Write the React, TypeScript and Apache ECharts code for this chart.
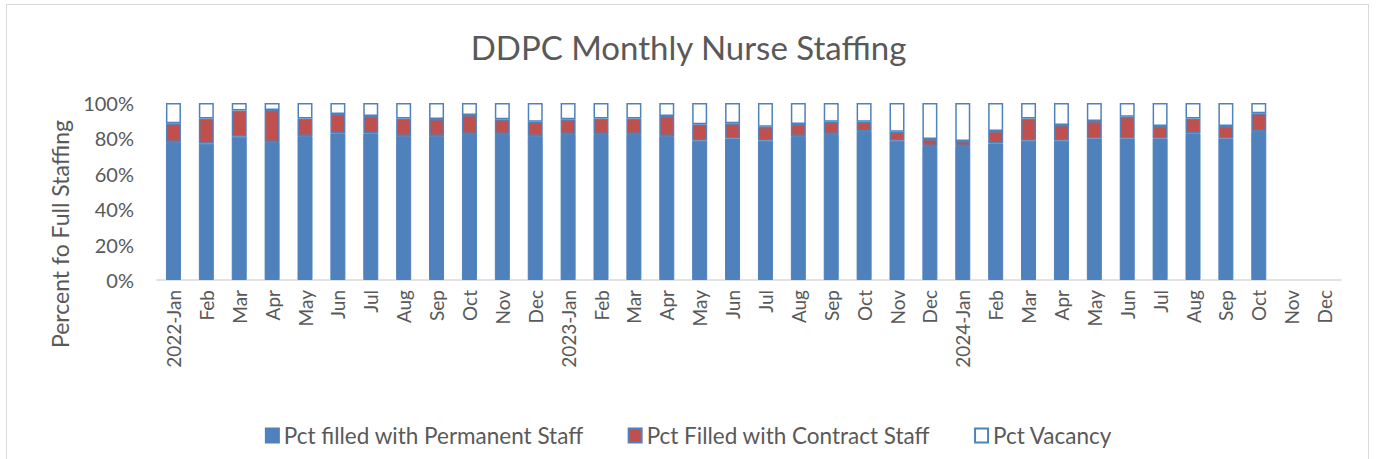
import React, { useEffect, useRef } from "react";
import * as echarts from "echarts";

const categories = [
  "2022-Jan", "Feb", "Mar", "Apr", "May", "Jun", "Jul", "Aug", "Sep", "Oct", "Nov", "Dec",
  "2023-Jan", "Feb", "Mar", "Apr", "May", "Jun", "Jul", "Aug", "Sep", "Oct", "Nov", "Dec",
  "2024-Jan", "Feb", "Mar", "Apr", "May", "Jun", "Jul", "Aug", "Sep", "Oct", "Nov", "Dec",
];

const permanent = [
  78.0, 77.0, 81.0, 78.0, 81.4, 82.9, 82.9, 81.4, 81.4, 82.5, 82.5, 81.4,
  82.5, 82.5, 82.5, 81.4, 78.7, 80.0, 78.7, 81.4, 82.5, 84.2, 78.7, 75.7,
  75.7, 77.2, 78.7, 78.7, 80.0, 80.0, 80.0, 82.9, 80.0, 84.2, null, null,
];

const contract = [
  10.5, 14.3, 14.7, 18.0, 9.9, 10.9, 9.8, 9.9, 9.6, 10.7, 8.3, 8.0,
  8.3, 8.8, 8.8, 11.3, 9.3, 8.5, 7.9, 6.7, 6.9, 5.2, 5.1, 4.0,
  2.8, 7.0, 12.6, 8.9, 9.8, 12.3, 7.0, 8.4, 7.0, 10.0, null, null,
];

const vacancy = [
  11.5, 8.7, 4.3, 4.0, 8.7, 6.2, 7.3, 8.7, 9.0, 6.8, 9.2, 10.6,
  9.2, 8.7, 8.7, 7.3, 12.0, 11.5, 13.4, 11.9, 10.6, 10.6, 16.2, 20.3,
  21.5, 15.8, 8.7, 12.4, 10.2, 7.7, 13.0, 8.7, 13.0, 5.8, null, null,
];

const yTicks = [0, 20, 40, 60, 80, 100];

const FONT = "Lato, 'Noto Sans', sans-serif";
const BLUE = "#4F81BD";
const RED = "#C0504D";
const TEXT = "#595959";

export default function App() {
  const ref = useRef<HTMLDivElement>(null);

  useEffect(() => {
    if (!ref.current) return;
    const chart = echarts.init(ref.current, undefined, { renderer: "svg" });
    chart.setOption({
      animation: false,
      textStyle: { fontFamily: FONT },
      title: {
        text: "DDPC Monthly Nurse Staffing",
        left: "center",
        top: 25,
        textStyle: { fontFamily: FONT, fontSize: 33, fontWeight: "normal", color: TEXT },
      },
      grid: { left: 157, right: 36, top: 103, bottom: 179, containLabel: false },
      legend: {
        bottom: 7,
        left: "center",
        itemWidth: 13,
        itemHeight: 14,
        itemGap: 44,
        icon: "rect",
        textStyle: { fontFamily: FONT, fontSize: 22.5, color: TEXT },
        data: [
          "Pct filled with Permanent Staff",
          "Pct Filled with Contract Staff",
          "Pct Vacancy",
        ],
      },
      graphic: [
        {
          type: "text",
          x: 60,
          y: 234,
          rotation: Math.PI / 2,
          style: {
            text: "Percent fo Full Staffing",
            fill: TEXT,
            font: `23px ${FONT}`,
            align: "center",
            verticalAlign: "middle",
          },
        },
      ],
      xAxis: {
        type: "category",
        data: categories,
        axisLine: { lineStyle: { color: "#D9D9D9", width: 1.5 } },
        axisTick: { show: false },
        axisLabel: {
          rotate: 90,
          interval: 0,
          margin: 10,
          fontSize: 19,
          color: TEXT,
          fontFamily: FONT,
        },
      },
      yAxis: {
        type: "value",
        min: 0,
        max: 100,
        interval: 20,
        axisLine: { show: false },
        axisTick: { show: false },
        splitLine: { show: false },
        axisLabel: {
          formatter: (v: number) => (yTicks.includes(v) ? `${v}%` : ""),
          fontSize: 20,
          color: TEXT,
          margin: 23,
          fontFamily: FONT,
        },
      },
      series: [
        {
          name: "Pct filled with Permanent Staff",
          type: "bar",
          stack: "s",
          barWidth: 15,
          data: permanent,
          itemStyle: { color: BLUE, borderColor: BLUE, borderWidth: 1 },
        },
        {
          name: "Pct Filled with Contract Staff",
          type: "bar",
          stack: "s",
          barWidth: 15,
          data: contract,
          itemStyle: { color: RED, borderColor: BLUE, borderWidth: 1.5 },
        },
        {
          name: "Pct Vacancy",
          type: "bar",
          stack: "s",
          barWidth: 15,
          data: vacancy,
          itemStyle: { color: "#FFFFFF", borderColor: BLUE, borderWidth: 1.5 },
        },
      ],
    });
    return () => chart.dispose();
  }, []);

  return (
    <div style={{ position: "fixed", left: 0, top: 0, width: 1377, height: 459, background: "#fff" }}>
      <div
        style={{
          position: "absolute",
          left: 6,
          top: 4,
          width: 1363,
          height: 470,
          border: "1.5px solid #D9D9D9",
          boxSizing: "border-box",
        }}
      />
      <div ref={ref} style={{ position: "absolute", left: 0, top: 0, width: 1377, height: 459 }} />
    </div>
  );
}
